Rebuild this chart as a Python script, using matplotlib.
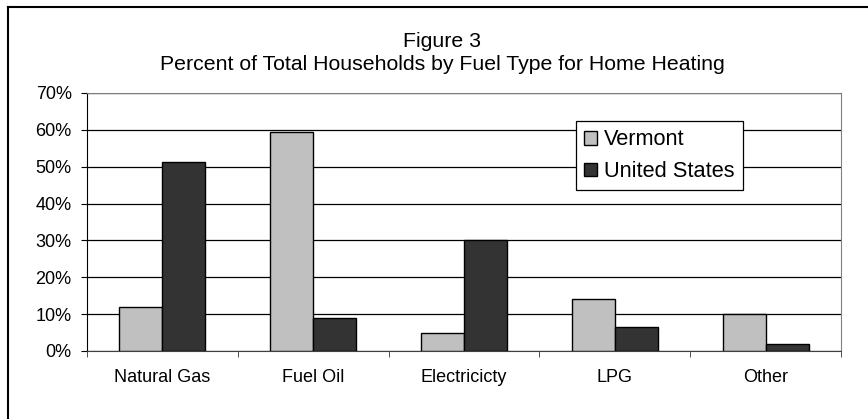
import numpy as np
import matplotlib
matplotlib.use("Agg")
import matplotlib.pyplot as plt
from matplotlib.lines import Line2D
from matplotlib.ticker import FuncFormatter

categories = ["Natural Gas", "Fuel Oil", "Electricicty", "LPG", "Other"]
vermont = [12.0, 59.3, 5.0, 14.0, 10.0]
united_states = [51.3, 8.9, 30.2, 6.5, 2.0]

plt.rcParams["font.family"] = ["Liberation Sans", "DejaVu Sans"]

fig = plt.figure(figsize=(8.68, 4.19), dpi=100)
ax = fig.add_axes([0.1002, 0.1623, 0.8687, 0.6158])

x = np.arange(len(categories))
w = 0.285
ax.bar(x - w / 2, vermont, w, color="#C0C0C0", edgecolor="black", linewidth=1, label="Vermont", zorder=3)
ax.bar(x + w / 2, united_states, w, color="#333333", edgecolor="black", linewidth=1, label="United States", zorder=3)

ax.set_xlim(-0.5, len(categories) - 0.5)
ax.set_ylim(0, 70)
ax.set_yticks(np.arange(0, 71, 10))
ax.yaxis.set_major_formatter(FuncFormatter(lambda v, p: f"{v:.0f}%"))
ax.set_xticks(x)
ax.set_xticklabels(categories, fontsize=13)
ax.set_xticks(np.arange(-0.5, len(categories), 1), minor=True)
ax.tick_params(axis="x", which="major", length=0, pad=13)
ax.tick_params(axis="x", which="minor", length=4.5, direction="out", color="#333333")
ax.tick_params(axis="y", labelsize=13, length=4, direction="out", pad=7)

ax.grid(axis="y", color="black", linewidth=0.9, zorder=0)
for s in ["top", "right"]:
    ax.spines[s].set_color("#808080")
ax.spines["left"].set_color("black")
ax.spines["bottom"].set_color("#404040")

leg = ax.legend(loc="upper left", bbox_to_anchor=(576 / 868, 1 - 121 / 419),
                bbox_transform=fig.transFigure, fontsize=15.7, frameon=True,
                fancybox=False, edgecolor="black", framealpha=1, handlelength=0.6,
                handleheight=0.6, handletextpad=0.3, borderpad=0.38, labelspacing=0.5,
                borderaxespad=0)
leg.get_frame().set_linewidth(0.9)

fig.text(442 / 868, 1 - 47 / 419, "Figure 3", ha="center", va="baseline", fontsize=15.3)
fig.text(442 / 868, 1 - 70 / 419, "Percent of Total Households by Fuel Type for Home Heating",
         ha="center", va="baseline", fontsize=15.3)

# outer chart border (cut off at right and bottom)
fig.add_artist(Line2D([8 / 868, 8 / 868], [0, 1 - 7 / 419], color="black", linewidth=1.5,
                      transform=fig.transFigure))
fig.add_artist(Line2D([8 / 868, 1], [1 - 7 / 419, 1 - 7 / 419], color="black", linewidth=1.5,
                      transform=fig.transFigure))

fig.savefig("out.png", dpi=100)
plt.close(fig)
